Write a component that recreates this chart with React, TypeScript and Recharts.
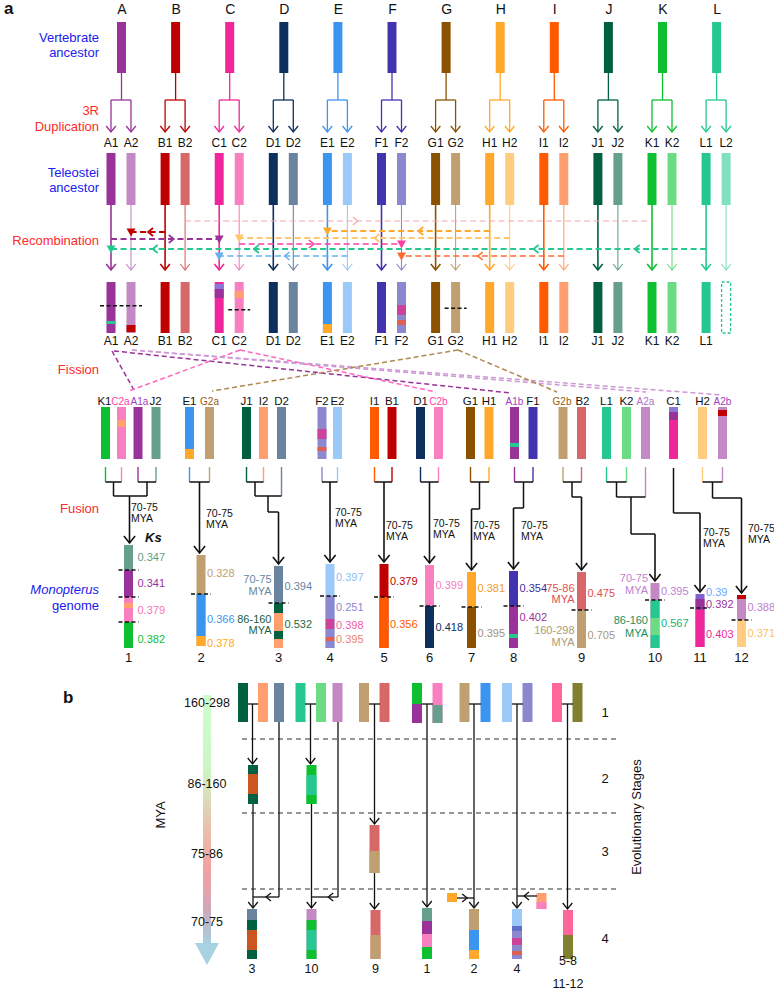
import React from 'react';
import { ScatterChart, Scatter, XAxis, YAxis, ReferenceArea, ReferenceLine } from 'recharts';

const FONT = '"Liberation Sans", Arial, sans-serif';
const BLUE = '#2020ee';
const RED = '#ff2a2a';

// ancestral vertebrate chromosomes and their two 3R paralog colours
const ancestors = ['A', 'B', 'C', 'D', 'E', 'F', 'G', 'H', 'I', 'J', 'K', 'L'];
const darkColors = ['#993399', '#c00000', '#f0279a', '#0d2f5e', '#3b95f0', '#4234ae', '#8a5200', '#ffa82a', '#ff5a00', '#006040', '#0cc030', '#24c890'];
const lightColors = ['#c488c4', '#d86868', '#f880c0', '#6a84a0', '#9ccaf8', '#8c88d0', '#c0a070', '#ffcc80', '#ff9e6e', '#66a08c', '#6cdc84', '#80e0c0'];

const colorOf = (n: string) =>
  n.startsWith('#') ? n : (n[1] === '2' ? lightColors : darkColors)[ancestors.indexOf(n[0])];

type Seg = [number, number, string];

// layout of panel a columns
const colX = (i: number) => 122 + 54.1 * i;
const p1X = (i: number) => colX(i) - 11;
const p2X = (i: number) => colX(i) + 9;
const parX = (n: string) => (n[1] === '2' ? p2X : p1X)(ancestors.indexOf(n[0]));

// bands left in paralogs after recombination
const recombBands: Record<string, Seg[]> = {
  A1: [[321, 324, 'L1']],
  A2: [[325, 332, 'B1']],
  C1: [[284, 289, '#8878d8'], [289, 298, 'A1']],
  C2: [[291, 298, '#ffa070']],
  E1: [[324, 333, 'H1']],
  F2: [[305, 315, '#cc4499'], [320, 325, '#e06050']],
};
const recombCuts: [string[], number][] = [[['A1', 'A2'], 305.7], [['C2'], 309.7], [['G2'], 308.3]];

const recombLinks = [
  { from: 'B2', to: 'K1', y: 221, c: '#f4a8a8', w: 1.2, chev: [0.37], tri: false },
  { from: 'B1', to: 'A2', y: 232, c: '#c00000', w: 1.8, chev: [0.5], tri: true },
  { from: 'H1', to: 'E1', y: 231, c: '#ffa82a', w: 1.8, chev: [0.44], tri: true },
  { from: 'A1', to: 'C1', y: 239, c: '#993399', w: 1.8, chev: [0.58], tri: true },
  { from: 'H2', to: 'C2', y: 238, c: '#ffc870', w: 1.8, chev: [0.5], tri: true },
  { from: 'C2', to: 'F2', y: 244, c: '#ff3da5', w: 1.6, chev: [0.46], tri: true },
  { from: 'L1', to: 'A1', y: 249, c: '#24c890', w: 1.8, chev: [0.12, 0.29, 0.76, 0.93], tri: true },
  { from: 'E2', to: 'C1', y: 256, c: '#66b0f0', w: 1.5, chev: [0.49], tri: true },
  { from: 'I2', to: 'F2', y: 256, c: '#ff6a30', w: 1.6, chev: [0.53], tri: true },
];

// fission products
const row2Names = ['K1', 'C2a', 'A1a', 'J2', 'E1', 'G2a', 'J1', 'I2', 'D2', 'F2', 'E2', 'I1', 'B1', 'D1', 'C2b', 'G1', 'H1', 'A1b', 'F1', 'G2b', 'B2', 'L1', 'K2', 'A2a', 'C1', 'H2', 'A2b'];
const row2X = [105.5, 121.5, 138, 156, 189.5, 209.5, 246.5, 263.5, 281.5, 322, 337.5, 374.5, 392, 420.5, 438.5, 470.5, 489, 514.5, 533, 563, 581.5, 606.5, 626.5, 645.5, 673.5, 702.5, 722.5];
const row2LabelShift: Record<string, number> = { K1: -1, C2a: -1, A1a: 1.5, J2: -0.5, G2b: -1, B2: 1 };
const row2Bands: Record<string, Seg[]> = {
  C2a: [[420, 427, '#ffa070']],
  E1: [[449, 459, 'H1']],
  F2: [[429, 439, '#cc4499'], [447, 451, '#e06050']],
  A1b: [[443, 447, 'L1']],
  C1: [[407, 412, '#8878d8'], [412, 420, 'A1']],
  A2b: [[410, 416, 'B1']],
};
const row2LabelColors: Record<string, string> = {
  C2a: '#ff3da5', A1a: '#a040c0', G2a: '#9a5a10', C2b: '#ff3da5', A1b: '#a040c0', G2b: '#9a5a10', A2a: '#b070c8', A2b: '#a040c0',
};
const fissionLinks: { a: [number, number]; b: [number, number]; c: string }[] = [
  { a: [112, 351], b: [134, 390], c: '#993399' },
  { a: [114, 351], b: [511, 393], c: '#993399' },
  { a: [240, 350], b: [129, 391], c: '#ff66c0' },
  { a: [240, 350], b: [436, 392], c: '#ff66c0' },
  { a: [132, 350], b: [646, 392], c: '#cc99d4' },
  { a: [132, 350], b: [722, 395], c: '#cc99d4' },
  { a: [458, 350], b: [212, 391], c: '#b08850' },
  { a: [458, 350], b: [557, 392], c: '#b08850' },
];

// fusion tree
const tickLong: Record<string, number> = { D2: 496, A2a: 497 };
const fusionPaths: [number, number][][] = [
  [[105.5, 482], [121.5, 482]], [[138, 482], [156, 482]], [[113.5, 482], [113.5, 496], [147, 496], [147, 482]],
  [[189.5, 482], [209.5, 482]],
  [[246.5, 482], [263.5, 482]], [[255, 482], [255, 496], [281.5, 496]], [[268, 496], [268, 512], [278.5, 512]],
  [[322, 482], [337.5, 482]],
  [[374.5, 482], [392, 482]],
  [[420.5, 482], [438.5, 482]],
  [[470.5, 482], [489, 482]], [[479.5, 482], [479.5, 509], [471.5, 509]],
  [[514.5, 482], [533, 482]], [[523.5, 482], [523.5, 508], [513.5, 508]],
  [[563, 482], [581.5, 482]], [[572, 482], [572, 497], [581.5, 497]],
  [[606.5, 482], [626.5, 482]], [[616.5, 482], [616.5, 497], [645.5, 497]], [[631, 497], [631, 534], [655, 534]],
  [[673.5, 468], [673.5, 513], [700, 513]],
  [[702.5, 482], [722.5, 482]], [[712.5, 482], [712.5, 498], [741.5, 498]],
];
const fusionArrows: [number, number, number][] = [
  [129.5, 496, 543], [199.5, 482, 553], [278.5, 512, 564], [330, 482, 562], [384, 482, 562], [429.5, 482, 563],
  [471.5, 509, 570], [513.5, 508, 569], [581.5, 497, 570], [655, 534, 581], [700, 513, 592], [741.5, 498, 593],
];
const fusionAges: [number, number][] = [[131, 511], [206, 517], [335, 516], [386, 529], [433, 527], [473, 529], [521, 529], [703, 536], [748, 532]];

// Monopterus genome
const genomeIds = ['1', '2', '3', '4', '5', '6', '7', '8', '9', '10', '11', '12'];
const genomeX = [128.5, 201, 278.5, 330, 384, 429.5, 471.5, 513.5, 581.5, 655, 700, 741.5];
const genomeSegs: Seg[][] = [
  [[545, 570, 'J2'], [570, 597, 'A1'], [597, 622, 'C2'], [603, 608, '#ffa070'], [622, 648, 'K1']],
  [[555, 594, 'G2'], [594, 636, 'E1'], [636, 646, 'H1']],
  [[566, 603, 'D2'], [603, 613, 'J1'], [613, 631, 'I2'], [631, 639, 'J1'], [639, 648, 'I2']],
  [[564, 596, 'E2'], [596, 619, 'F2'], [619, 629, '#cc4499'], [629, 637, 'F2'], [637, 641, '#e06050'], [641, 648, 'F2']],
  [[564, 597, 'B1'], [597, 648, 'I1']],
  [[565, 606, 'C2'], [606, 648, 'D1']],
  [[572, 607, 'H1'], [607, 648, 'G1']],
  [[571, 606, 'F1'], [606, 648, 'A1'], [634, 638, 'L1']],
  [[572, 610, 'B2'], [610, 648, 'G2']],
  [[583, 600, 'A2'], [600, 618, 'L1'], [618, 635, 'K2'], [635, 648, 'L1']],
  [[594, 599, '#8060d0'], [599, 610, 'A1'], [610, 647, 'C1']],
  [[595, 599, 'B1'], [599, 620, 'A2'], [620, 647, 'H2']],
];
const genomeCuts: number[][] = [[570, 597, 622], [594], [603], [596], [597], [606], [607], [606], [610], [600], [608], [620]];
const ksValues: [string, number, string][][] = [
  [['0.347', 557, '#5f9e86'], ['0.341', 583, '#993399'], ['0.379', 610, '#f772b8'], ['0.382', 639, '#0cc030']],
  [['0.328', 573, '#c0a070'], ['0.366', 619, '#3b95f0'], ['0.378', 643, '#ffa82a']],
  [['0.394', 586, '#6a84a0'], ['0.532', 624, '#1a6a48']],
  [['0.397', 577, '#8cc0f5'], ['0.251', 607, '#8c88d0'], ['0.398', 625, '#f060a8'], ['0.395', 639, '#f08070']],
  [['0.379', 581, '#c00000'], ['0.356', 624, '#ff5a00']],
  [['0.399', 585, '#f880c0'], ['0.418', 627, '#0d2f5e']],
  [['0.381', 588, '#f0a020'], ['0.395', 633, '#a09080']],
  [['0.354', 588, '#3d2ea0'], ['0.402', 617, '#993399']],
  [['0.475', 593, '#e05050'], ['0.705', 635, '#a89880']],
  [['0.395', 591, '#c080d0'], ['0.567', 623, '#22b070']],
  [['0.39', 592, '#66aaff'], ['0.392', 604, '#993399'], ['0.403', 634, '#f0279a']],
  [['0.388', 607, '#c080d0'], ['0.371', 633, '#ffc060']],
];
const genomeAges: [number, [string, number, string][]][] = [
  [2, [['70-75', 583, '#6a84a0'], ['MYA', 595, '#6a84a0'], ['86-160', 623, '#1a6040'], ['MYA', 634, '#1a6040']]],
  [8, [['75-86', 592, '#e05050'], ['MYA', 603, '#e05050'], ['160-298', 634, '#b09a70'], ['MYA', 646, '#b09a70']]],
  [9, [['70-75', 582, '#c080d0'], ['MYA', 594, '#c080d0'], ['86-160', 624, '#1a9060'], ['MYA', 637, '#1a9060']]],
];

// panel b: chromosomes per evolutionary stage
const bChroms: [number, Seg[]][] = [
  [243, [[683, 722, 'J1']]], [263, [[683, 722, 'I2']]], [279, [[683, 722, 'D2']]],
  [300.5, [[683, 722, 'L1']]], [321, [[683, 722, 'K2']]], [337.5, [[683, 722, 'A2']]],
  [364, [[683, 722, 'G2']]], [384.5, [[683, 722, 'B2']]],
  [417, [[683, 702, 'K1'], [704, 723, 'A1']]], [437.5, [[683, 702, 'C2'], [705, 723, 'J2']]],
  [464.5, [[683, 722, 'G2']]], [485.5, [[683, 722, 'E1']]], [507, [[683, 722, 'E2']]], [527.5, [[683, 722, 'F2']]],
  [557, [[683, 722, '#ff6699']]], [577.5, [[683, 722, '#808030']]],
  [253, [[765, 774, 'J1'], [774, 794, '#cc5522'], [794, 804, 'J1']]],
  [311.5, [[765, 775, 'K1'], [775, 795, 'L1'], [795, 804, 'K1']]],
  [374.5, [[825, 851, 'B2'], [851, 873, 'G2']]],
  [252, [[909, 920, 'D2'], [920, 930, 'J1'], [930, 950, '#cc5522'], [950, 959, 'J1']]],
  [311.5, [[909, 920, 'A2'], [920, 930, 'K1'], [930, 950, 'L1'], [950, 959, 'K1']]],
  [375.5, [[910, 935, 'B2'], [935, 959, 'G2']]],
  [427, [[908, 921, 'J2'], [921, 934, 'A1'], [934, 947, 'C2'], [947, 959, 'K1']]],
  [474, [[909, 930, 'G2'], [930, 950, 'E1'], [950, 959, 'H1']]],
  [517, [[909, 926, 'E2'], [926, 931, '#6070c8'], [931, 938, 'F2'], [938, 945, '#cc4499'], [945, 951, 'F2'], [951, 955, '#e06050'], [955, 959, 'F2']]],
  [568, [[910, 935, '#ff6699'], [935, 959, '#808030']]],
  [452, [[893, 902, 'H1']]],
  [541.5, [[893, 898, 'I2'], [902, 909, 'C2']]],
];
const bLinks: [number, number][][] = [
  [[248, 704], [258, 704]], [[305, 704], [316, 704]], [[369, 704], [380, 704]], [[422, 704], [433, 704]],
  [[469, 704], [481, 704]], [[512, 704], [523, 704]], [[562, 704], [573, 704]],
  [[279, 722], [279, 897]], [[338, 722], [338, 897]],
];
const bArrows: [number, number, number][] = [
  [252.5, 704, 764], [253, 804, 908], [310.5, 704, 764], [311.5, 804, 908], [374.5, 704, 824],
  [374.5, 873, 909], [427, 704, 907], [474, 704, 908], [517, 704, 908], [567.5, 704, 909],
];
const bSideArrows: [number, number, number, number][] = [[279, 253, 897, 0.5], [338, 311.5, 897, 0.37], [457, 474, 898, 0.6], [537, 517, 896, 0.65]];
const bStageLines = [739, 813, 889];
const bAges: [string, number][] = [['160-298', 707], ['86-160', 788], ['75-86', 858], ['70-75', 926]];
const bStages: [string, number][] = [['1', 717], ['2', 783], ['3', 856], ['4', 943]];
const bLabels: [string, number, number][] = [['3', 252, 973], ['10', 311.5, 973], ['9', 375.5, 973], ['1', 427, 973], ['2', 474, 973], ['4', 517, 973], ['5-8', 568, 965], ['11-12', 568, 988]];

const sideLabels: [string, number, string, boolean?][] = [
  ['Vertebrate', 42, BLUE], ['ancestor', 57, BLUE], ['3R', 115, RED], ['Duplication', 131, RED],
  ['Teleostei', 177, BLUE], ['ancestor', 192, BLUE], ['Recombination', 245, RED], ['Fission', 374, RED],
  ['Fusion', 513, RED], ['Monopterus', 594, BLUE, true], ['genome', 610, BLUE],
];

type T = { x: number; y: number; t: string; c?: string; s?: number; a?: string; w?: string; i?: boolean; r?: number };

type LineOpts = { c?: string; w?: number; dash?: string; head?: number; chev?: number[]; chevSize?: number; tri?: boolean; cone?: boolean };

const lineShape = (o: LineOpts) => (p: any) => {
  const x1 = Number(p.x1), y1 = Number(p.y1), x2 = Number(p.x2), y2 = Number(p.y2);
  const c = o.c ?? '#000';
  const w = o.w ?? 1.5;
  const dx = x2 - x1, dy = y2 - y1;
  const len = Math.hypot(dx, dy) || 1;
  const ux = dx / len, uy = dy / len, nx = -uy, ny = ux;
  if (o.cone) {
    return <polygon points={`${x1},${y1} ${x2},${y2} ${(x1 + x2) / 2},${y1 + 22}`} fill={c} />;
  }
  const vee = (tx: number, ty: number, s: number, k: string) => (
    <polyline
      key={k}
      points={`${tx - ux * s + nx * s * 0.8},${ty - uy * s + ny * s * 0.8} ${tx},${ty} ${tx - ux * s - nx * s * 0.8},${ty - uy * s - ny * s * 0.8}`}
      fill="none"
      stroke={c}
      strokeWidth={w}
    />
  );
  return (
    <g>
      <line x1={x1} y1={y1} x2={x2} y2={y2} stroke={c} strokeWidth={w} strokeDasharray={o.dash} />
      {o.head ? vee(x2, y2, o.head, 'h') : null}
      {(o.chev ?? []).map((t, i) => vee(x1 + dx * t, y1 + dy * t, o.chevSize ?? 5, 'c' + i))}
      {o.tri ? <polygon points={`${x2 - 4.5},${y2 - 3.5} ${x2 + 4.5},${y2 - 3.5} ${x2},${y2 + 4.5}`} fill={c} /> : null}
    </g>
  );
};

const TextShape = (p: any) => {
  const d: T = p.payload;
  return (
    <text
      x={p.cx}
      y={p.cy}
      fill={d.c ?? '#111'}
      fontSize={d.s ?? 12}
      textAnchor={d.a ?? 'middle'}
      fontWeight={d.w ?? 'normal'}
      fontStyle={d.i ? 'italic' : 'normal'}
      fontFamily={FONT}
      transform={d.r ? `rotate(${d.r} ${p.cx} ${p.cy})` : undefined}
    >
      {d.t}
    </text>
  );
};

export default function App() {
  const rects: React.ReactElement[] = [];
  const lines: React.ReactElement[] = [];
  const texts: T[] = [];
  let k = 0;

  const rect = (x1: number, x2: number, y1: number, y2: number, fill: string, extra: any = {}) =>
    rects.push(
      <ReferenceArea key={'r' + k++} x1={x1} x2={x2} y1={y1} y2={y2} fill={fill} fillOpacity={1} stroke="none" ifOverflow="visible" {...extra} />
    );
  const bar = (cx: number, y1: number, y2: number, base: string, bands: Seg[] = [], w = 9) => {
    rect(cx - w / 2, cx + w / 2, y1, y2, colorOf(base));
    bands.forEach((b) => rect(cx - w / 2, cx + w / 2, b[0], b[1], colorOf(b[2])));
  };
  const seg = (a: [number, number], b: [number, number], o: LineOpts) =>
    lines.push(
      <ReferenceLine key={'l' + k++} segment={[{ x: a[0], y: a[1] }, { x: b[0], y: b[1] }]} ifOverflow="visible" shape={lineShape(o)} />
    );
  const poly = (pts: [number, number][], o: LineOpts) => {
    for (let i = 0; i < pts.length - 1; i++) seg(pts[i], pts[i + 1], o);
  };

  // panel labels
  texts.push({ x: 4, y: 14, t: 'a', s: 17, a: 'start', w: 'bold' });
  texts.push({ x: 63, y: 703, t: 'b', s: 17, a: 'start', w: 'bold' });
  sideLabels.forEach(([t, y, c, it]) => texts.push({ x: 99, y, t, c, s: 13, a: 'end', i: !!it }));

  // ancestors, 3R duplication, teleost ancestor, recombination
  ancestors.forEach((L, i) => {
    const d = darkColors[i];
    const l = lightColors[i];
    texts.push({ x: colX(i), y: 14, t: L, s: 14 });
    bar(colX(i) - 0.5, 22, 73, d);
    seg([colX(i) - 0.5, 73], [colX(i) - 0.5, 100], { c: d, w: 1.3 });
    seg([p1X(i), 100], [p2X(i), 100], { c: d, w: 1.3 });
    seg([p1X(i), 100], [p1X(i), 132], { c: d, w: 1.3, head: 6 });
    seg([p2X(i), 100], [p2X(i), 132], { c: d, w: 1.3, head: 6 });
    texts.push({ x: p1X(i), y: 147, t: L + '1', s: 12 });
    texts.push({ x: p2X(i), y: 147, t: L + '2', s: 12 });
    bar(p1X(i), 153, 205, L + '1');
    bar(p2X(i), 153, 205, L + '2');
    seg([p1X(i), 205], [p1X(i), 270], { c: d, w: 1.6, head: 6 });
    seg([p2X(i), 205], [p2X(i), 270], { c: l, w: 1.1, head: 6 });
    bar(p1X(i), 282, 333, L + '1', recombBands[L + '1']);
    texts.push({ x: p1X(i), y: 345, t: L + '1', s: 12 });
    if (L === 'L') {
      rect(p2X(i) - 4.5, p2X(i) + 4.5, 282, 333, 'none', { stroke: '#24c890', strokeWidth: 1.3, strokeDasharray: '3 2' });
    } else {
      bar(p2X(i), 282, 333, L + '2', recombBands[L + '2']);
      texts.push({ x: p2X(i), y: 345, t: L + '2', s: 12 });
    }
  });
  recombLinks.forEach((r) =>
    seg([parX(r.from), r.y], [parX(r.to), r.y], { c: r.c, w: r.w, dash: '6 3.5', chev: r.chev, tri: r.tri })
  );
  recombCuts.forEach(([names, y]) => {
    const xs = names.map(parX);
    seg([Math.min(...xs) - 11, y], [Math.max(...xs) + 11, y], { c: '#111', w: 1.6, dash: '4 2.5' });
  });

  // fission
  fissionLinks.forEach((f) => seg(f.a, f.b, { c: f.c, w: 1.5, dash: '5 3' }));
  row2Names.forEach((n, i) => {
    const x = row2X[i];
    bar(x, 407, 459, n.slice(0, 2), row2Bands[n]);
    texts.push({
      x: x + (row2LabelShift[n] ?? 0),
      y: 405,
      t: n,
      s: n.length === 3 ? 10 : 11.5,
      c: row2LabelColors[n] ?? '#111',
    });
    if (n !== 'C1') seg([x, 467], [x, tickLong[n] ?? 482], { c: colorOf(n.slice(0, 2)), w: 1.4 });
  });

  // fusion
  fusionPaths.forEach((p) => poly(p, { c: '#111', w: 1.5 }));
  fusionArrows.forEach(([x, a, b]) => seg([x, a], [x, b], { c: '#111', w: 1.6, head: 7 }));
  fusionAges.forEach(([x, y]) => {
    texts.push({ x, y, t: '70-75', s: 10.5, a: 'start' });
    texts.push({ x, y: y + 11, t: 'MYA', s: 10.5, a: 'start' });
  });

  // genome
  texts.push({ x: 145, y: 542, t: 'Ks', s: 13, a: 'start', i: true, w: 'bold' });
  genomeIds.forEach((id, i) => {
    const x = genomeX[i];
    const segs = genomeSegs[i];
    bar(x, segs[0][0], segs[segs.length - 1][1], segs[0][2], segs.slice(1));
    genomeCuts[i].forEach((y) => seg([x - 10, y], [x + 10, y], { c: '#111', w: 1.5, dash: '4 2.5' }));
    ksValues[i].forEach(([v, y, c]) => texts.push({ x: x + (i === 0 ? 9 : 6), y: y + 4, t: v, c, s: 11, a: 'start' }));
    texts.push({ x, y: 662, t: id, s: 13 });
  });
  genomeAges.forEach(([ci, rows]) => rows.forEach(([t, y, c]) => texts.push({ x: genomeX[ci] - 7, y, t, c, s: 11, a: 'end' })));

  // panel b
  rect(203, 211, 695, 943, 'url(#myaGrad)');
  seg([195, 943], [219, 943], { c: '#a6d2e2', cone: true });
  bStageLines.forEach((y) => seg([242, y], [620, y], { c: '#777', w: 1.5, dash: '5 4' }));
  bChroms.forEach(([x, segs]) => bar(x, segs[0][0], segs[segs.length - 1][1], segs[0][2], segs.slice(1), 10));
  bLinks.forEach((p) => poly(p, { c: '#111', w: 1.3 }));
  bArrows.forEach(([x, a, b]) => seg([x, a], [x, b], { c: '#111', w: 1.3, head: 6 }));
  bSideArrows.forEach(([a, b, y, t]) => seg([a, y], [b, y], { c: '#111', w: 1.3, chev: [t], chevSize: 5 }));
  bAges.forEach(([t, y]) => texts.push({ x: 207, y, t, s: 12.5 }));
  texts.push({ x: 165, y: 815, t: 'MYA', s: 13, r: -90 });
  bStages.forEach(([t, y]) => texts.push({ x: 605, y, t, s: 13 }));
  texts.push({ x: 641, y: 817, t: 'Evolutionary Stages', s: 13, r: -90 });
  bLabels.forEach(([t, x, y]) => texts.push({ x, y, t, s: 12.5 }));

  return (
    <div style={{ position: 'absolute', left: 0, top: 0, width: 774, height: 990, background: '#fff' }}>
      <ScatterChart width={774} height={990} margin={{ top: 0, right: 0, bottom: 0, left: 0 }}>
        <defs>
          <linearGradient id="myaGrad" x1="0" y1="0" x2="0" y2="1">
            <stop offset="0%" stopColor="#ccffcc" />
            <stop offset="30%" stopColor="#ccf5c4" />
            <stop offset="50%" stopColor="#e6c8b0" />
            <stop offset="70%" stopColor="#f4a0a0" />
            <stop offset="86%" stopColor="#d0a8b8" />
            <stop offset="100%" stopColor="#a8d0e0" />
          </linearGradient>
        </defs>
        <XAxis type="number" dataKey="x" domain={[0, 774]} allowDataOverflow hide />
        <YAxis type="number" dataKey="y" domain={[0, 990]} allowDataOverflow reversed hide />
        {rects}
        {lines}
        <Scatter data={texts} shape={TextShape} isAnimationActive={false} />
      </ScatterChart>
    </div>
  );
}
